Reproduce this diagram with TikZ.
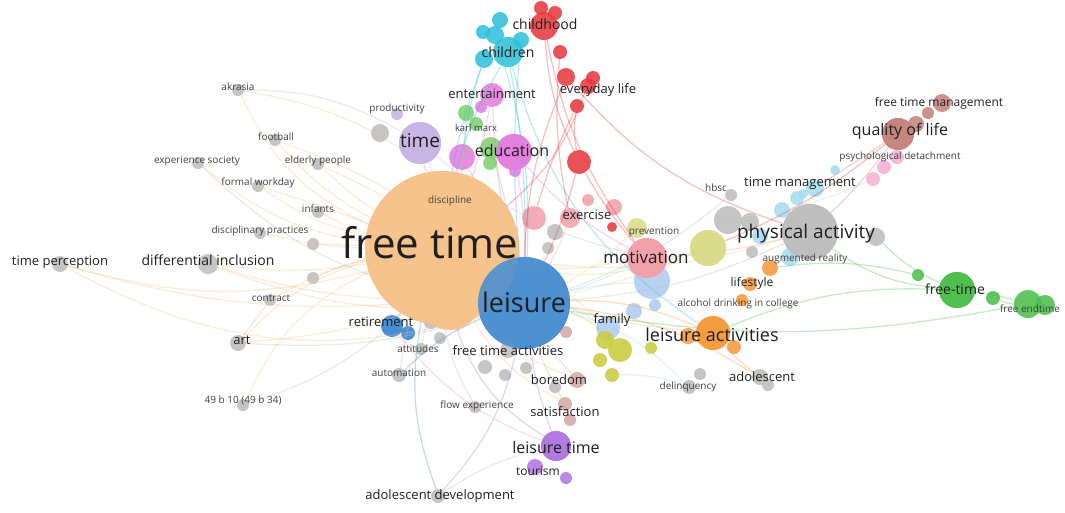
\documentclass[tikz,border=0pt]{standalone}
\usepackage{fontspec}
\setmainfont{Open Sans}
\begin{document}
\begin{tikzpicture}[x=1pt,y=-1pt,
  bub/.style={circle,draw=none,inner sep=0pt,fill opacity=0.88},
  lab/.style={inner sep=0pt,text=black!88},
  slab/.style={lab,text=black!75},
  edge/.style={line width=1.3pt,opacity=0.32}]
\useasboundingbox (0,0) rectangle (1065,512);
\definecolor{cOr}{HTML}{F6C28B}
\definecolor{cBl}{HTML}{4A8FD2}
\definecolor{cDb}{HTML}{2F7FD0}
\definecolor{cGr}{HTML}{BDBDBD}
\definecolor{cLv}{HTML}{C8B4E4}
\definecolor{cMg}{HTML}{E47EDE}
\definecolor{cGn}{HTML}{80D070}
\definecolor{cCy}{HTML}{30C0DA}
\definecolor{cRd}{HTML}{E63A3F}
\definecolor{cPk}{HTML}{F0A0A8}
\definecolor{cYl}{HTML}{D8DC88}
\definecolor{cYg}{HTML}{C8CC40}
\definecolor{cLb}{HTML}{B0CCF0}
\definecolor{cOa}{HTML}{F59A3E}
\definecolor{cSk}{HTML}{A8DCEE}
\definecolor{cBr}{HTML}{C4847E}
\definecolor{cPp}{HTML}{F2B0D0}
\definecolor{cFg}{HTML}{4CBF4C}
\definecolor{cPu}{HTML}{B078E0}
\definecolor{cBo}{HTML}{D4A8A4}
\newcommand\bb[5]{\node[bub,fill=#5,minimum size={#4*2pt}] (#1) at (#2,#3) {};}
% ---------------- bubbles
\bb{ft}{442}{248}{77}{cOr}
\bb{ft2}{450}{300}{30}{cOr}
\bb{leis}{524}{303}{46}{cBl}
\bb{ret}{392}{326}{11}{cDb}
\bb{ret2}{408}{333}{7}{cDb}
\bb{time}{420}{143}{21}{cLv}
\bb{prod}{397}{114}{6}{cLv}
\bb{timeg}{380}{133}{9}{cGr}
\bb{edu}{514}{152}{18}{cMg}
\bb{mag1}{462}{157}{13}{cMg}
\bb{mag2}{515}{171}{6}{cMg}
\bb{ent}{492}{95}{12}{cMg}
\bb{ent2}{481}{107}{6}{cMg}
\bb{km1}{466}{113}{8}{cGn}
\bb{km2}{476}{124}{7}{cGn}
\bb{km3}{491}{148}{11}{cGn}
\bb{km4}{490}{163}{7}{cGn}
\bb{chn}{508}{52}{15}{cCy}
\bb{chn2}{495}{35}{9}{cCy}
\bb{chn3}{483}{32}{7}{cCy}
\bb{chn4}{484}{59}{9}{cCy}
\bb{chn5}{521}{40}{8}{cCy}
\bb{chn6}{500}{20}{8}{cCy}
\bb{chh}{544}{26}{14}{cRd}
\bb{chh2}{541}{8}{7}{cRd}
\bb{chh3}{555}{13}{7}{cRd}
\bb{red3}{560}{52}{7}{cRd}
\bb{ev}{566}{77}{9}{cRd}
\bb{ev2}{588}{86}{8}{cRd}
\bb{ev3}{593}{78}{7}{cRd}
\bb{ev4}{577}{106}{7}{cRd}
\bb{redb}{579}{162}{12}{cRd}
\bb{ex1}{534}{218}{12}{cPk}
\bb{ex2}{570}{218}{10}{cPk}
\bb{ex3}{588}{200}{6}{cPk}
\bb{ex4}{614}{207}{8}{cPk}
\bb{ex5}{612}{227}{5}{cRd}
\bb{gl1}{555}{232}{8}{cGr}
\bb{gl2}{548}{248}{6}{cGr}
\bb{prev}{637}{228}{10}{cYl}
\bb{mot2}{652}{281}{18}{cLb}
\bb{mot}{647}{258}{20}{cPk}
\bb{ygb}{708}{248}{18}{cYl}
\bb{pa3}{728}{220}{14}{cGr}
\bb{pa4}{750}{222}{9}{cGr}
\bb{hbsc}{731}{195}{6}{cGr}
\bb{tm6}{760}{236}{8}{cSk}
\bb{tm7}{790}{257}{9}{cSk}
\bb{pa}{810}{232}{28}{cGr}
\bb{pa2}{876}{237}{9}{cGr}
\bb{pa5}{752}{252}{6}{cGr}
\bb{tm1}{782}{210}{8}{cSk}
\bb{tm2}{797}{198}{7}{cSk}
\bb{tm3}{803}{194}{5}{cSk}
\bb{tm4}{815}{188}{9}{cSk}
\bb{tm5}{835}{170}{5}{cSk}
\bb{psy}{873}{179}{7}{cPp}
\bb{psy2}{884}{167}{7}{cPp}
\bb{psy3}{897}{157}{7}{cPp}
\bb{qol}{898}{134}{16}{cBr}
\bb{qol2}{916}{124}{8}{cBr}
\bb{fm2}{928}{113}{6}{cBr}
\bb{fm}{942}{103}{9}{cBr}
\bb{ls1}{770}{268}{8}{cOa}
\bb{ls2}{750}{284}{7}{cOa}
\bb{ls3}{742}{300}{6}{cOa}
\bb{la}{713}{333}{17}{cOa}
\bb{la2}{688}{336}{8}{cOa}
\bb{la3}{734}{347}{7}{cOa}
\bb{ado}{760}{377}{8}{cGr}
\bb{ado2}{768}{385}{6}{cGr}
\bb{del}{689}{387}{7}{cGr}
\bb{del2}{700}{374}{6}{cGr}
\bb{fam}{608}{328}{12}{cLb}
\bb{fam2}{634}{311}{8}{cLb}
\bb{fam3}{655}{305}{6}{cLb}
\bb{yc1}{605}{340}{9}{cYg}
\bb{yc2}{620}{350}{12}{cYg}
\bb{yc3}{600}{360}{7}{cYg}
\bb{yc4}{612}{375}{7}{cYg}
\bb{yc5}{651}{348}{6}{cYg}
\bb{pkl}{566}{332}{6}{cBo}
\bb{fta}{508}{350}{8}{cGr}
\bb{ga}{485}{367}{7}{cGr}
\bb{gb}{505}{375}{6}{cGr}
\bb{gc}{526}{368}{6}{cGr}
\bb{att}{421}{349}{6}{cGr}
\bb{att2}{431}{322}{7}{cGr}
\bb{att3}{440}{338}{6}{cGr}
\bb{aut}{399}{375}{7}{cGr}
\bb{bor}{577}{380}{8}{cBo}
\bb{bor2}{555}{387}{6}{cGr}
\bb{sat}{565}{404}{7}{cBo}
\bb{sat2}{570}{420}{6}{cBo}
\bb{lt}{556}{446}{15}{cPu}
\bb{lt2}{535}{467}{8}{cPu}
\bb{lt3}{566}{478}{6}{cPu}
\bb{flow}{475}{407}{6}{cGr}
\bb{adev}{438}{496}{7}{cGr}
\bb{akr}{238}{90}{6}{cGr}
\bb{foot}{275}{140}{6}{cGr}
\bb{exps}{198}{163}{6}{cGr}
\bb{eld}{318}{164}{6}{cGr}
\bb{fwd}{258}{186}{6}{cGr}
\bb{inf}{318}{212}{6}{cGr}
\bb{dp}{260}{233}{6}{cGr}
\bb{g1}{313}{244}{6}{cGr}
\bb{di}{208}{264}{10}{cGr}
\bb{tp}{60}{264}{8}{cGr}
\bb{g2}{313}{278}{6}{cGr}
\bb{con}{270}{300}{6}{cGr}
\bb{art}{238}{343}{8}{cGr}
\bb{b49}{243}{405}{6}{cGr}
\bb{fr2}{918}{275}{6}{cFg}
\bb{fr}{957}{290}{18}{cFg}
\bb{fr3}{993}{298}{7}{cFg}
\bb{fe}{1028}{304}{14}{cFg}
\bb{fe2}{1045}{305}{10}{cFg}
% ---------------- edges
\foreach \a/\b/\c/\bd in {
 ft/akr/cOr/20, ft/foot/cOr/10, ft/exps/cOr/15, ft/eld/cOr/5, ft/fwd/cOr/10,
 ft/inf/cOr/5, ft/dp/cOr/5, ft/di/cOr/8, ft/tp/cOr/15, ft/con/cOr/-8,
 ft/art/cOr/-15, ft/b49/cOr/-20, ft/g1/cOr/0, ft/g2/cOr/-5, tp/leis/cOr/-22,
 di/leis/cOr/-12, tp/ft2/cOr/-10, akr/time/cGr/15, exps/leis/cGr/-18,
 con/art/cGr/0, b49/ret/cGr/-10, art/leis/cGr/-10, akr/leis/cOr/25, foot/leis/cOr/12,
 eld/leis/cOr/8, fwd/leis/cOr/6, di/ft2/cOr/-8, art/ft2/cOr/-6,
 chn/ft/cCy/-8, chn/leis/cCy/5, chn2/leis/cCy/10, chn4/ft/cCy/-5, chn5/leis/cCy/-5,
 chn4/mag1/cCy/-5, chn/la/cCy/-20,
 chh/mot/cRd/-12, ev/leis/cRd/-10, ev4/ex1/cRd/-5, red3/ex2/cRd/-8, chh/redb/cRd/-10,
 redb/leis/cRd/5, redb/mot/cRd/-5, ev2/ft/cRd/15, ev/pa/cRd/-15, ev4/redb/cRd/-10,
 edu/leis/cMg/5, ent/leis/cMg/-5, mag1/leis/cMg/5, km3/leis/cGn/3, km1/ft/cGn/5,
 edu/mot/cMg/-10, ent/ft/cMg/5,
 time/leis/cLv/-10, time/ft/cLv/0, time/mot/cLv/-12,
 leis/mot/cLb/-5, leis/pa/cGr/-10, ft/pa/cOr/-12, leis/la/cOa/12, ft/la/cOr/-10,
 ft/mot/cOr/-10, ft/ex1/cOr/-5, leis/ex2/cPk/-5, ft/fam/cOr/12, leis/mot2/cLb/5,
 leis/fam/cLb/10, leis/yc2/cYg/15, mot/pa/cPk/-5, pa/fr/cFg/-15, pa2/fr/cFg/-10,
 fr/fe/cFg/5, fr3/fe/cFg/-10, la/fr/cFg/12, ls1/fr2/cFg/10, leis/fe/cFg/-10,
 tm4/qol/cBr/0, pa/qol/cBr/-5, ygb/qol/cRd/-8, tm1/psy/cSk/-5,
 leis/lt/cPu/-5, ft/lt/cPu/-20, leis/adev/cPu/15, ft/adev/cBl/-15, lt/adev/cGr/-10,
 leis/sat/cBo/-5, leis/bor/cBo/-5, ft/flow/cGr/-10, leis/del/cLb/15, yc4/del/cLb/10,
 leis/ado/cOa/12, la/ado/cOa/-5, leis/ret/cBl/-10, ft/ret/cBl/0, ft/att/cGr/0,
 leis/prev/cYl/-8, ft/ygb/cYl/-15, leis/ygb/cYl/-5, leis/hbsc/cGr/-10,
 ft/aut/cGr/-5, leis/aut/cBl/-10, ret/lt/cPk/-15, ft/bor/cOr/-15, ft/sat/cOr/-15}{
 \draw[edge,color=\c] (\a) to[bend left=\bd] (\b);
}
% redraw big bubbles on top of edges
\bb{ftA}{442}{248}{77}{cOr}
\bb{ftB}{450}{300}{30}{cOr}
\bb{leisA}{524}{303}{46}{cBl}
\bb{motA}{647}{258}{20}{cPk}
\bb{paA}{810}{232}{28}{cGr}
\bb{timeA}{420}{143}{21}{cLv}
\bb{eduA}{514}{152}{18}{cMg}
\bb{laA}{713}{333}{17}{cOa}
\bb{frA}{957}{290}{18}{cFg}
\bb{qolA}{898}{134}{16}{cBr}
\bb{ltA}{556}{446}{15}{cPu}
\bb{ygbA}{708}{248}{18}{cYl}
% ---------------- labels
\node[lab,font=\fontsize{42}{42}\selectfont] (Lft) at (430,243) {free time};
\node[lab,font=\fontsize{27}{27}\selectfont] (Lleis) at (524,302) {leisure};
\node[lab,font=\fontsize{19}{19}\selectfont] (Ltime) at (420,141) {time};
\node[lab,font=\fontsize{16}{16}\selectfont] (Ledu) at (512,150) {education};
\node[slab,font=\fontsize{9.5}{9.5}\selectfont] (Lkm) at (476,128) {karl marx};
\node[lab,font=\fontsize{13}{13}\selectfont] (Lent) at (492,94) {entertainment};
\node[lab,font=\fontsize{14}{14}\selectfont] (Lchn) at (508,52) {children};
\node[lab,font=\fontsize{14}{14}\selectfont] (Lchh) at (545,24) {childhood};
\node[lab,font=\fontsize{13}{13}\selectfont] (Lev) at (598,90) {everyday life};
\node[slab,font=\fontsize{10}{10}\selectfont] (Lprod) at (397,109) {productivity};
\node[slab,font=\fontsize{10}{10}\selectfont] (Ldis) at (450,201) {discipline};
\node[lab,font=\fontsize{13}{13}\selectfont] (Lex) at (587,215) {exercise};
\node[slab,font=\fontsize{10}{10}\selectfont] (Lprev) at (654,232) {prevention};
\node[lab,font=\fontsize{17}{17}\selectfont] (Lmot) at (646,257) {motivation};
\node[lab,font=\fontsize{19}{19}\selectfont] (Lpa) at (806,234) {physical activity};
\node[lab,font=\fontsize{13}{13}\selectfont] (Ltm) at (800,183) {time management};
\node[slab,font=\fontsize{10}{10}\selectfont] (Lhbsc) at (716,188) {hbsc};
\node[slab,font=\fontsize{10}{10}\selectfont] (Lar) at (805,259) {augmented reality};
\node[lab,font=\fontsize{12}{12}\selectfont] (Lls) at (752,283) {lifestyle};
\node[slab,font=\fontsize{10}{10}\selectfont] (Lalc) at (738,304) {alcohol drinking in college};
\node[lab,font=\fontsize{18}{18}\selectfont] (Lla) at (712,335) {leisure activities};
\node[lab,font=\fontsize{13}{13}\selectfont] (Lado) at (762,377) {adolescent};
\node[slab,font=\fontsize{10}{10}\selectfont] (Ldel) at (688,387) {delinquency};
\node[lab,font=\fontsize{13}{13}\selectfont] (Lfam) at (612,320) {family};
\node[lab,font=\fontsize{13}{13}\selectfont] (Lfta) at (508,351) {free time activities};
\node[lab,font=\fontsize{13}{13}\selectfont] (Lret) at (381,322) {retirement};
\node[slab,font=\fontsize{10}{10}\selectfont] (Latt) at (418,349) {attitudes};
\node[slab,font=\fontsize{10}{10}\selectfont] (Laut) at (399,373) {automation};
\node[lab,font=\fontsize{13}{13}\selectfont] (Lbor) at (559,380) {boredom};
\node[slab,font=\fontsize{10}{10}\selectfont] (Lflow) at (477,406) {flow experience};
\node[lab,font=\fontsize{13}{13}\selectfont] (Lsat) at (565,412) {satisfaction};
\node[lab,font=\fontsize{16}{16}\selectfont] (Llt) at (556,447) {leisure time};
\node[lab,font=\fontsize{12}{12}\selectfont] (Ltour) at (538,471) {tourism};
\node[lab,font=\fontsize{13}{13}\selectfont] (Ladev) at (440,496) {adolescent development};
\node[lab,font=\fontsize{16}{16}\selectfont] (Lqol) at (900,131) {quality of life};
\node[lab,font=\fontsize{12}{12}\selectfont] (Lfm) at (939,103) {free time management};
\node[slab,font=\fontsize{10}{10}\selectfont] (Lpsy) at (900,157) {psychological detachment};
\node[lab,font=\fontsize{14}{14}\selectfont] (Lfr) at (955,289) {free-time};
\node[slab,font=\fontsize{10}{10}\selectfont] (Lfe) at (1030,309) {free endtime};
\node[slab,font=\fontsize{10}{10}\selectfont] (Lakr) at (238,87) {akrasia};
\node[slab,font=\fontsize{10}{10}\selectfont] (Lfoot) at (276,137) {football};
\node[slab,font=\fontsize{10}{10}\selectfont] (Lexps) at (197,161) {experience society};
\node[slab,font=\fontsize{10}{10}\selectfont] (Leld) at (318,161) {elderly people};
\node[slab,font=\fontsize{10}{10}\selectfont] (Lfwd) at (258,183) {formal workday};
\node[slab,font=\fontsize{10}{10}\selectfont] (Linf) at (318,209) {infants};
\node[slab,font=\fontsize{10}{10}\selectfont] (Ldp) at (260,231) {disciplinary practices};
\node[lab,font=\fontsize{14}{14}\selectfont] (Ldi) at (208,260) {differential inclusion};
\node[lab,font=\fontsize{13}{13}\selectfont] (Ltp) at (60,262) {time perception};
\node[slab,font=\fontsize{10}{10}\selectfont] (Lcon) at (271,298) {contract};
\node[lab,font=\fontsize{13}{13}\selectfont] (Lart) at (242,340) {art};
\node[slab,font=\fontsize{10}{10}\selectfont] (Lb49) at (243,400) {49 b 10 (49 b 34)};
\end{tikzpicture}
\end{document}
